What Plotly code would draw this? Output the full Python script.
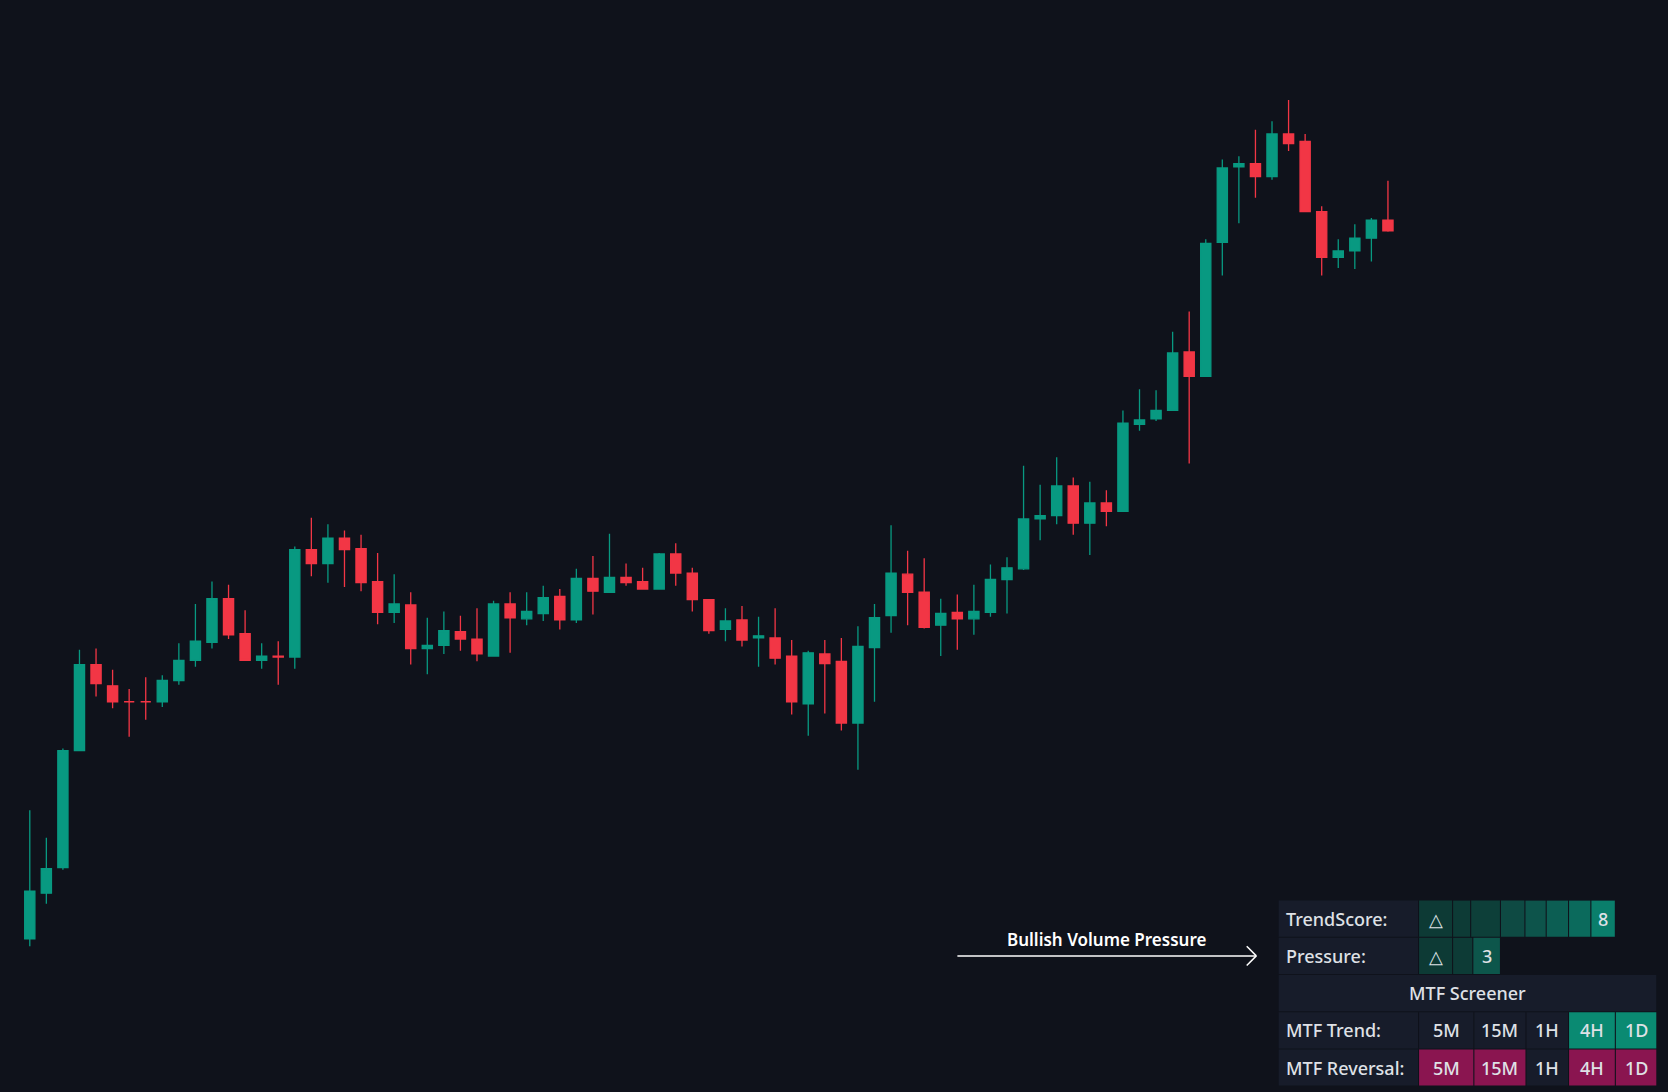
import plotly.graph_objects as go

# candle readings (chart units, higher = higher price)
opens_r = [883, 840, 816, 706, 625, 645, 660, 660, 660, 640, 621, 604, 563, 596, 621, 617, 618, 517, 530, 506,
           516, 547, 576, 569, 610, 607, 594, 601, 617, 568, 582, 577, 561, 583, 544, 557, 543, 547, 554, 521,
           539, 564, 592, 583, 600, 600, 617, 662, 615, 622, 680, 609, 579, 540, 557, 588, 576, 582, 576, 545,
           535, 488, 485, 457, 492, 473, 481, 399, 394, 386, 331, 354, 228, 157, 154, 166, 126, 133, 199, 242,
           236, 224, 207]
highs_r = [762, 788, 704, 611, 610, 630, 648, 637, 635, 605, 568, 547, 550, 574, 605, 603, 514, 487, 493, 499,
           503, 520, 540, 557, 581, 575, 579, 572, 565, 557, 557, 551, 554, 535, 523, 502, 530, 534, 520, 511,
           534, 564, 572, 570, 580, 572, 602, 612, 602, 600, 589, 568, 494, 518, 525, 563, 559, 550, 531, 524,
           438, 456, 430, 449, 453, 461, 386, 366, 367, 312, 293, 225, 150, 147, 122, 114, 94, 126, 194, 225,
           211, 205, 170]
lows_r = [890, 850, 818, 706, 655, 666, 693, 677, 665, 644, 627, 610, 601, 621, 629, 644, 629, 542, 548, 552,
          556, 587, 586, 625, 634, 615, 612, 622, 617, 614, 588, 584, 592, 586, 578, 557, 551, 554, 554, 551,
          575, 596, 603, 608, 627, 625, 672, 692, 671, 687, 724, 660, 595, 588, 591, 617, 611, 597, 580, 577,
          536, 508, 493, 503, 522, 495, 481, 405, 396, 386, 436, 354, 259, 210, 186, 169, 142, 199, 259, 252,
          253, 246, 218]
closes_r = [838, 817, 706, 625, 643, 660, 660, 660, 640, 621, 603, 563, 597, 621, 617, 618, 517, 530, 506, 517,
            548, 576, 568, 610, 607, 593, 601, 615, 568, 581, 575, 562, 583, 544, 556, 543, 548, 554, 521, 539,
            564, 593, 584, 602, 598, 619, 660, 614, 624, 680, 608, 581, 539, 557, 590, 577, 582, 575, 545, 534,
            488, 485, 457, 492, 473, 481, 398, 395, 386, 332, 354, 229, 158, 154, 166, 126, 135, 199, 242, 236,
            224, 207, 217]

TOP = 1027
opens = [TOP - v for v in opens_r]
highs = [TOP - v for v in highs_r]
lows = [TOP - v for v in lows_r]
closes = [TOP - v for v in closes_r]
bars = list(range(len(opens)))

GREEN = "#089981"
RED = "#F23645"
BG = "#0f121b"
CELL = "#171c2a"
FONT = "Noto Sans"

W, H = 1568.0, 1027.0

fig = go.Figure(go.Candlestick(
    x=bars, open=opens, high=highs, low=lows, close=closes,
    increasing=dict(line=dict(color=GREEN, width=1.3), fillcolor=GREEN),
    decreasing=dict(line=dict(color=RED, width=1.3), fillcolor=RED),
    whiskerwidth=0, hoverinfo="skip",
))

shapes = []
annotations = []


def px(x):
    return x / W


def py(y):
    return 1 - y / H


def cell(x0, x1, y0, y1, color, text=None, align="center", size=18):
    shapes.append(dict(type="rect", xref="paper", yref="paper", x0=px(x0), x1=px(x1),
                       y0=py(y1), y1=py(y0), fillcolor=color, line=dict(width=0), layer="above"))
    if text is not None:
        if align == "left":
            annotations.append(dict(xref="paper", yref="paper", x=px(x0 + 5), y=py((y0 + y1) / 2),
                                    text=text, showarrow=False, xanchor="left", yanchor="middle",
                                    font=dict(family=FONT, size=size, color="#dfe1e6", weight=500)))
        else:
            annotations.append(dict(xref="paper", yref="paper", x=px((x0 + x1) / 2), y=py((y0 + y1) / 2),
                                    text=text, showarrow=False, xanchor="center", yanchor="middle",
                                    font=dict(family=FONT, size=size, color="#dfe1e6", weight=500)))


# table rows
rows = [(847, 881), (882, 916), (917, 951), (952, 986), (987, 1021)]
labels = ["TrendScore:", "Pressure:", None, "MTF Trend:", "MTF Reversal:"]
for (y0, y1), lab in zip(rows, labels):
    if lab:
        cell(1202, 1333, y0, y1, CELL, lab, align="left")

trend_cells = [(1334, 1365, "#0d3a35", "△"), (1366, 1382, "#0d3b36", ""), (1383, 1410, "#0d3f39", ""),
               (1411, 1433, "#0e4a43", ""), (1434, 1453, "#0d544b", ""), (1454, 1474, "#0c5e53", ""),
               (1475, 1495, "#0b6a5c", ""), (1496, 1518, "#0a7e6b", "8")]
for x0, x1, c, t in trend_cells:
    cell(x0, x1, 847, 881, c, t)

press_cells = [(1334, 1365, "#0d3a35", "△"), (1366, 1384, "#0d3b36", ""), (1385, 1410, "#0d564b", "3")]
for x0, x1, c, t in press_cells:
    cell(x0, x1, 882, 916, c, t)

cell(1202, 1557, 917, 951, CELL, "MTF Screener")

frames = ["5M", "15M", "1H", "4H", "1D"]
frame_x = [(1334, 1385), (1386, 1434), (1435, 1474), (1475, 1518), (1519, 1557)]
trend_colors = [CELL, CELL, CELL, "#0a8a72", "#0a8a72"]
rev_colors = ["#8a1550", "#8a1550", CELL, "#8a1550", "#8a1550"]
for (x0, x1), f, c in zip(frame_x, frames, trend_colors):
    cell(x0, x1, 952, 986, c, f)
for (x0, x1), f, c in zip(frame_x, frames, rev_colors):
    cell(x0, x1, 987, 1021, c, f)

# arrow label
shapes.append(dict(type="line", xref="paper", yref="paper", x0=px(900), x1=px(1181), y0=py(899), y1=py(899),
                   line=dict(color="white", width=1.5)))
for dy in (-9, 9):
    shapes.append(dict(type="line", xref="paper", yref="paper", x0=px(1172), x1=px(1181),
                       y0=py(899 + dy), y1=py(899), line=dict(color="white", width=1.5)))
annotations.append(dict(xref="paper", yref="paper", x=px(1040), y=py(884), text="Bullish Volume Pressure",
                        showarrow=False, xanchor="center", yanchor="middle",
                        font=dict(family=FONT, size=17, color="white", weight=600)))

fig.update_layout(
    width=1668, height=1092,
    margin=dict(l=0, r=0, t=0, b=0),
    paper_bgcolor=BG, plot_bgcolor=BG,
    showlegend=False, boxgap=0.12,
    shapes=shapes, annotations=annotations,
    xaxis=dict(range=[-28 / 15.57, (W - 28) / 15.57], visible=False, rangeslider=dict(visible=False),
               fixedrange=True),
    yaxis=dict(range=[0, TOP], visible=False, fixedrange=True),
)

fig.write_html("out.html", config={"displayModeBar": False},
               post_script="document.body.style.margin='0';"
                           "document.body.style.background='" + BG + "';")
